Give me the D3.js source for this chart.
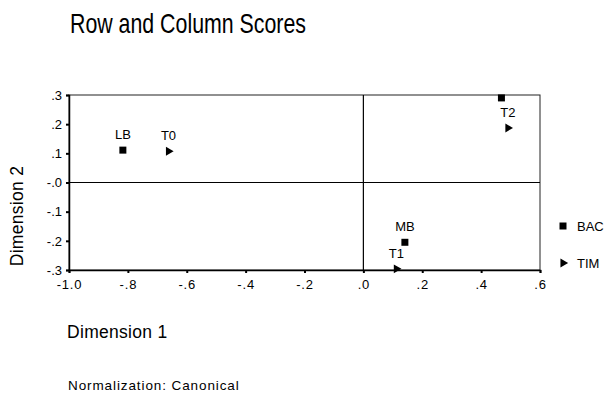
<!DOCTYPE html>
<html>
<head>
<meta charset="utf-8">
<script src="https://cdn.jsdelivr.net/npm/d3@7"></script>
<style>
  body { margin: 0; background: #fff; }
  svg { font-family: Arial, "Liberation Sans", sans-serif; }
</style>
</head>
<body>
<svg id="chart" width="608" height="399"></svg>
<script>
// row points (BAC) and column points (TIM)
const rowLabels = ["LB", "MB", ""];
const rowDim1 = [-0.817, 0.141, 0.469];
const rowDim2 = [0.111, -0.205, 0.29];

const colLabels = ["T0", "T1", "T2"];
const colDim1 = [-0.662, 0.112, 0.491];
const colDim2 = [0.107, -0.296, 0.187];

const xTicks = [-1.0, -0.8, -0.6, -0.4, -0.2, 0.0, 0.2, 0.4, 0.6];
const xTickLabels = ["-1.0", "-.8", "-.6", "-.4", "-.2", ".0", ".2", ".4", ".6"];
const yTicks = [0.3, 0.2, 0.1, 0.0, -0.1, -0.2, -0.3];
const yTickLabels = [".3", ".2", ".1", "-.0", "-.1", "-.2", "-.3"];

const legendNames = ["BAC", "TIM"];

const svg = d3.select("#chart");
const plotL = 69, plotR = 540, plotT = 95, plotB = 270;

const x = d3.scaleLinear().domain([-1.0, 0.6]).range([plotL, plotR]);
const y = d3.scaleLinear().domain([-0.3, 0.3]).range([plotB, plotT]);

// title (tall, slightly narrow glyphs in the original)
svg.append("text").attr("transform", "translate(70,33) scale(0.97,1.23)")
  .attr("font-size", 22).text("Row and Column Scores");

// frame
svg.append("rect").attr("x", plotL).attr("y", plotT)
  .attr("width", plotR - plotL).attr("height", plotB - plotT)
  .attr("fill", "none").attr("stroke", "#222").attr("stroke-width", 1);

// reference lines
svg.append("line").attr("x1", x(0)).attr("x2", x(0)).attr("y1", plotT).attr("y2", plotB)
  .attr("stroke", "#000").attr("stroke-width", 1.2);
svg.append("line").attr("x1", plotL).attr("x2", plotR).attr("y1", y(0)).attr("y2", y(0))
  .attr("stroke", "#000").attr("stroke-width", 1.2);

// axes
const xAxis = d3.axisBottom(x).tickValues(xTicks)
  .tickFormat((d, i) => xTickLabels[i]).tickSize(3).tickPadding(7);
const gx = svg.append("g").attr("transform", `translate(0,${plotB})`).call(xAxis);
gx.select(".domain").attr("stroke", "#000").attr("stroke-width", 1.5);
gx.selectAll(".tick line").attr("stroke", "#000").attr("stroke-width", 2);
gx.selectAll(".tick text").attr("font-size", 13).attr("letter-spacing", 0.8)
  .attr("font-family", "Arial, 'Liberation Sans', sans-serif").attr("fill", "#000");

const yAxis = d3.axisLeft(y).tickValues(yTicks)
  .tickFormat((d, i) => yTickLabels[i]).tickSize(3).tickPadding(4);
const gy = svg.append("g").attr("transform", `translate(${plotL},0)`).call(yAxis);
gy.select(".domain").attr("stroke", "#000").attr("stroke-width", 1.5);
gy.selectAll(".tick line").attr("stroke", "#000").attr("stroke-width", 2);
gy.selectAll(".tick text").attr("font-size", 13)
  .attr("font-family", "Arial, 'Liberation Sans', sans-serif").attr("fill", "#000");

// axis titles
svg.append("text").attr("transform", "translate(23,216) rotate(-90)")
  .attr("text-anchor", "middle").attr("font-size", 17.5).attr("letter-spacing", 0.3)
  .text("Dimension 2");
svg.append("text").attr("x", 67).attr("y", 338).attr("font-size", 17.5)
  .attr("letter-spacing", 0.3).text("Dimension 1");
svg.append("text").attr("x", 68).attr("y", 390).attr("font-size", 13.5)
  .attr("letter-spacing", 0.9).text("Normalization: Canonical");

const square = d3.symbol().type(d3.symbolSquare).size(49);
const tri = d3.symbol().type(d3.symbolTriangle).size(34);

// row points
const rows = rowLabels.map((l, i) => ({ l, a: rowDim1[i], b: rowDim2[i] }));
svg.selectAll(".rowpt").data(rows).enter().append("path")
  .attr("d", square)
  .attr("transform", d => `translate(${x(d.a)},${y(d.b)})`)
  .attr("fill", "#000");
svg.selectAll(".rowlab").data(rows).enter().append("text")
  .attr("x", d => x(d.a)).attr("y", d => y(d.b) - 11)
  .attr("text-anchor", "middle").attr("font-size", 13).text(d => d.l);

// column points
const cols = colLabels.map((l, i) => ({ l, a: colDim1[i], b: colDim2[i] }));
svg.selectAll(".colpt").data(cols).enter().append("path")
  .attr("d", tri)
  .attr("transform", d => `translate(${x(d.a)},${y(d.b)}) rotate(90)`)
  .attr("fill", "#000");
svg.selectAll(".collab").data(cols).enter().append("text")
  .attr("x", d => x(d.a)).attr("y", d => y(d.b) - 11)
  .attr("text-anchor", "middle").attr("font-size", 13).text(d => d.l);

// legend
const legend = svg.append("g");
legendNames.forEach((name, i) => {
  const ly = 226 + i * 37;
  legend.append("path").attr("d", i === 0 ? square : tri)
    .attr("transform", `translate(563,${ly})` + (i === 0 ? "" : " rotate(90)"))
    .attr("fill", "#000");
  legend.append("text").attr("x", 577).attr("y", ly + 5)
    .attr("font-size", 13).text(name);
});
</script>
</body>
</html>
